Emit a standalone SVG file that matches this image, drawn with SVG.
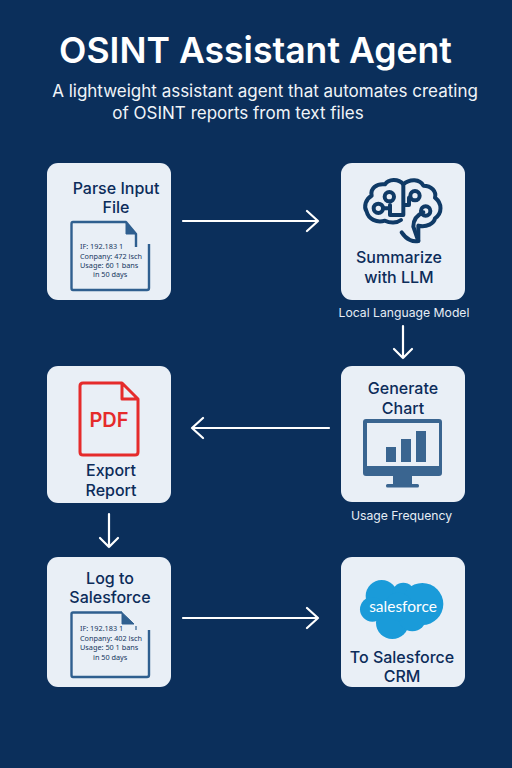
<svg xmlns="http://www.w3.org/2000/svg" width="512" height="768" viewBox="0 0 512 768">
<defs>
<style>
.card{fill:#e9eff6}
.t{font-family:Inter,"Liberation Sans",sans-serif;fill:#0c2c5a;font-size:16px;font-weight:500;text-anchor:middle}
.cap{font-family:Inter,"Liberation Sans",sans-serif;fill:#e6edf5;font-size:12.2px;text-anchor:middle}
.doc{font-family:"Noto Sans",sans-serif;fill:#17375f;font-size:7.300px}
.arrow{fill:none;stroke:#fff;stroke-width:2.2;stroke-linecap:round;stroke-linejoin:round}
.ic{fill:none;stroke:#2f5f8f;stroke-width:2.4;stroke-linejoin:round}
.br{fill:none;stroke:#0f3a66;stroke-width:12;stroke-linecap:round;stroke-linejoin:round}
</style>
</defs>
<rect width="512" height="768" fill="#0b2f5b"/>
<text x="255.500" y="63" font-family="Inter,'Liberation Sans',sans-serif" font-size="35.600" font-weight="600" fill="#fff" text-anchor="middle">OSINT Assistant Agent</text>
<text x="265" y="97" font-family="Inter,'Liberation Sans',sans-serif" font-size="17" fill="#f0f4f8" text-anchor="middle">A lightweight assistant agent that automates creating</text>
<text x="238" y="119" font-family="Inter,'Liberation Sans',sans-serif" font-size="17" fill="#f0f4f8" text-anchor="middle">of OSINT reports from text files</text>

<g id="connectors">
<path class="arrow" d="M183 221H318M307 211L318 221L307 231"/>
<path class="arrow" d="M403 326V358M394 349L403 358L412 349"/>
<path class="arrow" d="M329 428H192M203 418L192 428L203 438"/>
<path class="arrow" d="M109 514V547M100 538L109 547L118 538"/>
<path class="arrow" d="M183 618H318M307 608L318 618L307 628"/>
</g>

<g id="parse">
<rect class="card" x="47" y="163" width="124" height="137" rx="11"/>
<text class="t" x="116" y="194">Parse Input</text>
<text class="t" x="116" y="213">File</text>
<path class="ic" d="M136 247V234L126 222H73Q71.500 222 71.500 224V288Q71.500 290 73 290H147Q149 290 149 288V244"/>
<path d="M126 222L136 234H126Z" fill="#2f5f8f" stroke="#2f5f8f"/>
<text class="doc" x="80" y="249">IF: 192.183 1</text>
<text class="doc" x="80" y="258.500">Conpany: 472 lsch</text>
<text class="doc" x="80" y="267.500">Usage: 60 1 bans</text>
<text class="doc" x="93" y="277">in 50 days</text>
</g>

<g id="summarize">
<rect class="card" x="341" y="163" width="124" height="137" rx="11"/>
<g transform="translate(335 155) scale(.3333)">
<path class="br" d="M205 88C190 70 160 72 150 88C125 85 105 100 110 122C92 132 85 155 95 170C100 192 125 205 150 197C165 205 185 205 198 195"/>
<path class="br" d="M205 88C225 70 255 72 265 92C290 92 305 110 300 128C322 145 322 175 300 190C298 205 275 218 250 212V258C235 262 215 255 200 232"/>
<path class="br" d="M205 92V180H165V150M205 150H222V128M145 160H165M265 172C245 180 235 195 235 215L250 258"/>
<circle class="br" cx="163" cy="125" r="14" fill="#e9eff6"/>
<circle class="br" cx="240" cy="122" r="14" fill="#e9eff6"/>
<circle class="br" cx="130" cy="160" r="14" fill="#e9eff6"/>
<circle class="br" cx="272" cy="168" r="14" fill="#e9eff6"/>
</g>
<text class="t" x="399" y="263" font-weight="600">Summarize</text>
<text class="t" x="399" y="283" font-weight="600">with LLM</text>
<text class="cap" x="404" y="317">Local Language Model</text>
</g>

<g id="chart">
<rect class="card" x="341" y="366" width="124" height="136" rx="11"/>
<text class="t" x="403" y="394">Generate</text>
<text class="t" x="403" y="414">Chart</text>
<path d="M366 419H439Q442 419 442 422V473Q442 476 439 476H366Q363 476 363 473V422Q363 419 366 419ZM367 423V466H439V423Z" fill="#3a6590" fill-rule="evenodd"/>
<rect x="386" y="447" width="10" height="15" fill="#3a6590"/>
<rect x="401" y="439" width="10" height="23" fill="#3a6590"/>
<rect x="416" y="431" width="10" height="31" fill="#3a6590"/>
<rect x="393" y="476" width="19" height="8" fill="#3a6590"/>
<rect x="386" y="484" width="33" height="3.500" rx="1.500" fill="#3a6590"/>
<text class="cap" x="401.500" y="520">Usage Frequency</text>
</g>

<g id="export">
<rect class="card" x="47" y="366" width="124" height="137" rx="11"/>
<path d="M122 383H83Q80 383 80 386V452Q80 455 83 455H135Q138 455 138 452V399ZM122 383V399H138" fill="none" stroke="#e52b2b" stroke-width="3" stroke-linejoin="round"/>
<text x="109" y="427" font-family="Inter,'Liberation Sans',sans-serif" font-size="20" font-weight="600" fill="#e52b2b" text-anchor="middle">PDF</text>
<text class="t" x="111" y="476">Export</text>
<text class="t" x="111" y="496">Report</text>
</g>

<g id="log">
<rect class="card" x="47" y="557" width="124" height="130" rx="11"/>
<text class="t" x="110" y="584">Log to</text>
<text class="t" x="110" y="603">Salesforce</text>
<path class="ic" d="M122 612.500H73Q71.500 612.500 71.500 614V675Q71.500 677 73 677H147Q149 677 149 675V630"/>
<path d="M122 612.500L134 624H122Z" fill="#2f5f8f" stroke="#2f5f8f"/>
<path d="M136 626V630" stroke="#2f5f8f" stroke-width="1.200"/>
<text class="doc" x="80" y="630.500">IF: 192.183 1</text>
<text class="doc" x="80" y="640.500">Conpany: 402 lsch</text>
<text class="doc" x="80" y="649.500">Usage: 50 1 bans</text>
<text class="doc" x="93" y="659.500">in 50 days</text>
</g>

<g id="crm">
<rect class="card" x="341" y="557" width="124" height="130" rx="11"/>
<g transform="translate(335 550) scale(.3333)" fill="#1a9bd9">
<circle cx="140" cy="138" r="48"/>
<circle cx="205" cy="132" r="34"/>
<circle cx="262" cy="162" r="63"/>
<circle cx="172" cy="218" r="49"/>
<circle cx="232" cy="202" r="42"/>
<circle cx="112" cy="178" r="37"/>
<circle cx="190" cy="170" r="42"/>
</g>
<text x="403" y="612" font-family="Lato,'Liberation Sans',sans-serif" font-size="15.500" fill="#fff" text-anchor="middle" style="font-variant-ligatures:none">salesforce</text>
<text class="t" x="402" y="663" font-weight="600">To Salesforce</text>
<text class="t" x="402" y="682" font-weight="600">CRM</text>
</g>
</svg>
